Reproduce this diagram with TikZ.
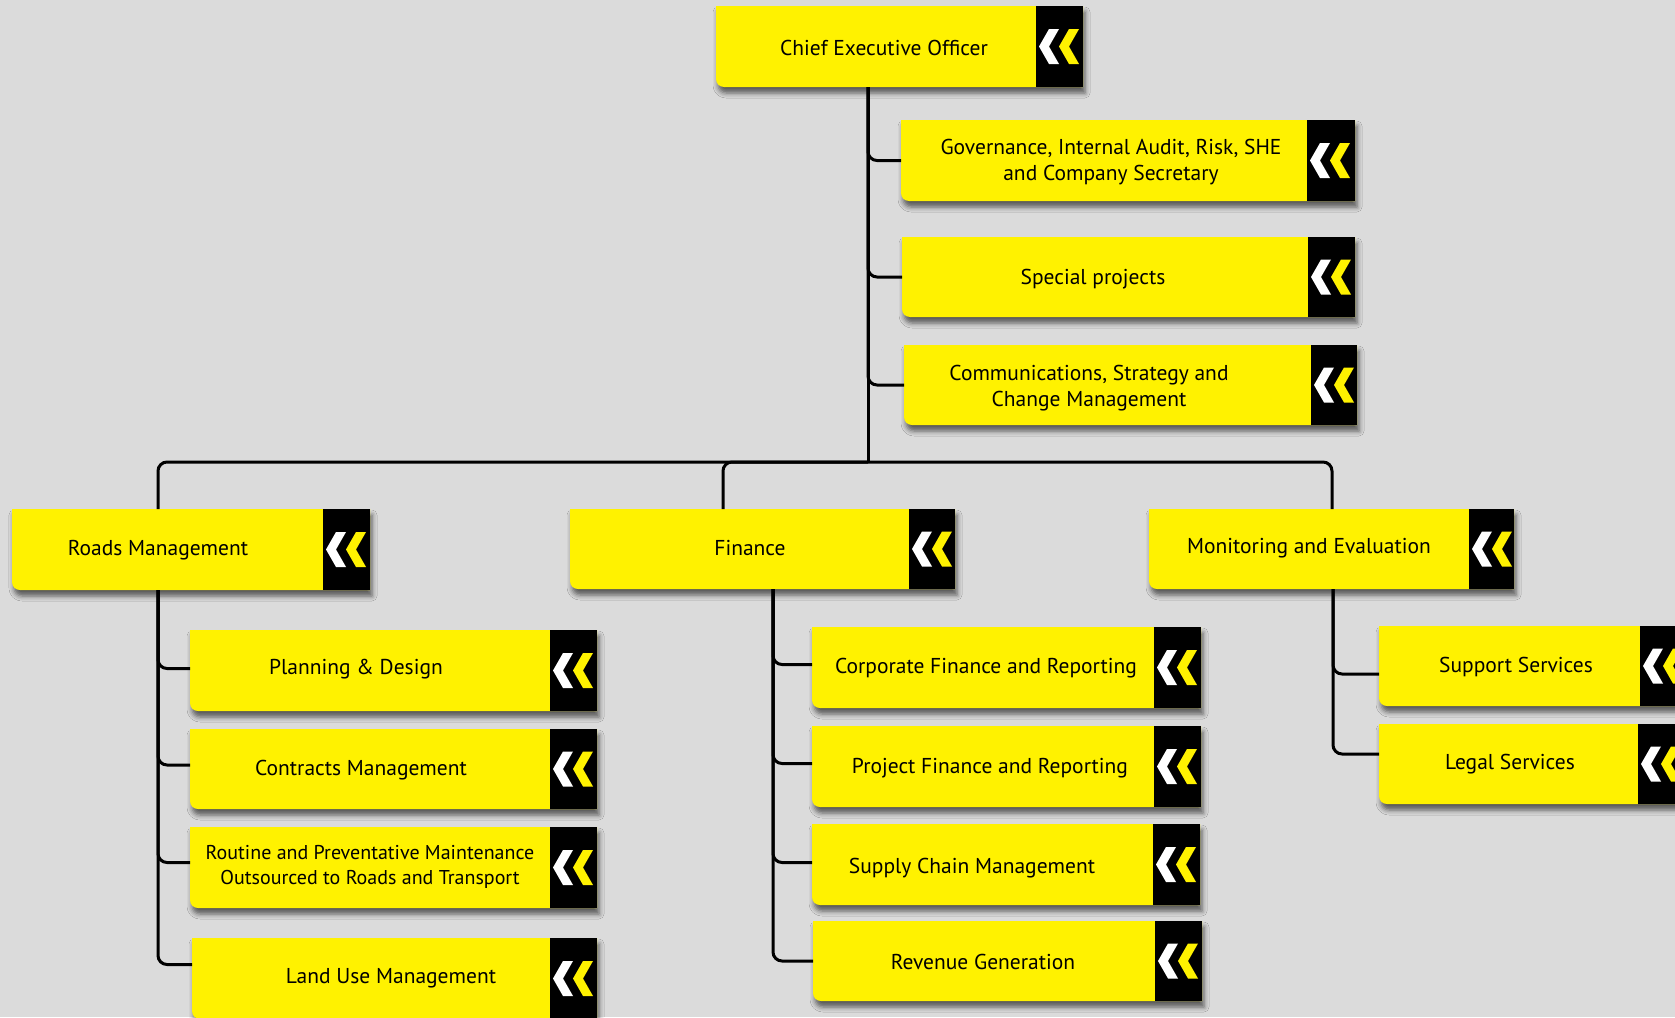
\documentclass[tikz,border=0pt]{standalone}
\usepackage{fontspec}
\setmainfont{PT Sans}
\usetikzlibrary{shadows.blur}
\definecolor{bgc}{RGB}{219,219,219}
\definecolor{yel}{RGB}{255,242,0}
\tikzset{
  conn/.style={line width=3pt, rounded corners=9pt, draw=black},
  lbl/.style={font=\fontsize{21.5}{25.5}\selectfont, align=center, inner sep=0pt, text=black},
  boxshade/.style={blur shadow={shadow xshift=2pt, shadow yshift=-6pt, shadow blur radius=5pt, shadow opacity=60}},
  anchorbox/.style={inner sep=0pt, outer sep=0pt, draw=none}
}
% #1 name, #2 x1, #3 y1, #4 x2, #5 y2, #6 black start, #7 text x, #8 text y, #9 text
\newcommand\obox[9]{%
  \pgfmathsetmacro\obw{#4-#2}\pgfmathsetmacro\obh{#5-#3}%
  \pgfmathsetmacro\obyc{(#3+#5)/2}\pgfmathsetmacro\obxc{(#2+#4)/2}%
  \fill[yel, boxshade] (#2,#3) -- (#4,#3) -- (#4,#5) -- ({#2+8},#5) arc[start angle=270, end angle=180, radius=8pt] -- cycle;
  \fill[black] (#6,#3) rectangle (#4,#5);
  \fill[white] ({#6+13},{\obyc-17.5}) -- ({#6+3},\obyc) -- ({#6+13},{\obyc+17.5}) -- ({#6+23},{\obyc+17.5}) -- ({#6+13},\obyc) -- ({#6+23},{\obyc-17.5}) -- cycle;
  \fill[yel] ({#6+33},{\obyc-17.5}) -- ({#6+23},\obyc) -- ({#6+33},{\obyc+17.5}) -- ({#6+43},{\obyc+17.5}) -- ({#6+33},\obyc) -- ({#6+43},{\obyc-17.5}) -- cycle;
  \node[anchorbox, minimum width=\obw pt, minimum height=\obh pt] (#1) at (\obxc,\obyc) {};
  \node[lbl] (#1-t) at (#7,{#8+2}) {#9};
}
\begin{document}
\begin{tikzpicture}[x=1pt, y=-1pt]
\useasboundingbox (0,0) rectangle (1675,1017);
\clip (0,0) rectangle (1675,1017);
\fill[bgc] (0,0) rectangle (1675,1017);

\obox{ceo}{716}{6}{1083}{87}{1036}{884}{46}{Chief Executive Officer}
\obox{gov}{901}{120}{1355}{201}{1307}{1111}{160}{Governance, Internal Audit, Risk, SHE\\and Company Secretary}
\obox{spec}{902}{237}{1355}{317}{1308}{1093}{277}{Special projects}
\obox{comm}{904}{345}{1357}{425}{1311}{1089}{386}{Communications, Strategy and\\Change Management}
\obox{roads}{12}{509}{370}{590}{323}{158}{548}{Roads Management}
\obox{fin}{570}{509}{955}{589}{909}{750}{546}{Finance}
\obox{mon}{1149}{509}{1514}{589}{1469}{1309}{546}{Monitoring and Evaluation}
\obox{plan}{190}{630}{597}{711}{550}{356}{667}{Planning \& Design}
\obox{contr}{190}{729}{597}{809}{550}{361}{768}{Contracts Management}
\obox{rout}{190}{827}{597}{908}{550}{370}{865}{\fontsize{20}{24.6}\selectfont Routine and Preventative Maintenance\\\fontsize{20}{24.6}\selectfont Outsourced to Roads and Transport}
\obox{land}{192}{938}{597}{1019}{550}{391}{976}{Land Use Management}
\obox{corp}{812}{627}{1201}{708}{1154}{986}{666}{Corporate Finance and Reporting}
\obox{proj}{812}{726}{1201}{807}{1154}{990}{766}{Project Finance and Reporting}
\obox{supp}{812}{824}{1200}{905}{1153}{972}{866}{Supply Chain Management}
\obox{rev}{813}{921}{1202}{1001}{1155}{983}{960}{Revenue Generation}
\obox{sup}{1379}{626}{1700}{706}{1640}{1516}{665}{Support Services}
\obox{legal}{1379}{724}{1700}{804}{1638}{1510}{762}{Legal Services}

\coordinate (trx) at (868,0);
\coordinate (busL) at (158,462);
\coordinate (busR) at (1332,462);
\coordinate (finx) at (723,0);
\coordinate (rdx) at (158,0);
\coordinate (fsx) at (773,0);
\coordinate (msx) at (1333,0);

\draw[conn] (ceo.south -| trx) -- (trx |- busL);
\draw[conn] (ceo.south -| trx) |- (gov.west);
\draw[conn] (ceo.south -| trx) |- (spec.west);
\draw[conn] (ceo.south -| trx) |- (comm.west);
\draw[conn] (roads.north -| busL) |- (busR) -- (mon.north -| busR);
\draw[conn] (trx |- busL) -| (fin.north -| finx);

\draw[conn] (roads.south -| rdx) |- ([yshift=2pt]plan.west);
\draw[conn] (roads.south -| rdx) |- ([yshift=4pt]contr.west);
\draw[conn] (roads.south -| rdx) |- ([yshift=5pt]rout.west);
\draw[conn] (roads.south -| rdx) |- ([yshift=14pt]land.west);

\draw[conn] (fin.south -| fsx) |- ([yshift=3pt]corp.west);
\draw[conn] (fin.south -| fsx) |- ([yshift=3pt]proj.west);
\draw[conn] (fin.south -| fsx) |- ([yshift=2pt]supp.west);
\draw[conn] (fin.south -| fsx) |- (rev.west);

\draw[conn] (mon.south -| msx) |- ([yshift=-8pt]sup.west);
\draw[conn] (mon.south -| msx) |- ([yshift=10pt]legal.west);
\end{tikzpicture}
\end{document}
